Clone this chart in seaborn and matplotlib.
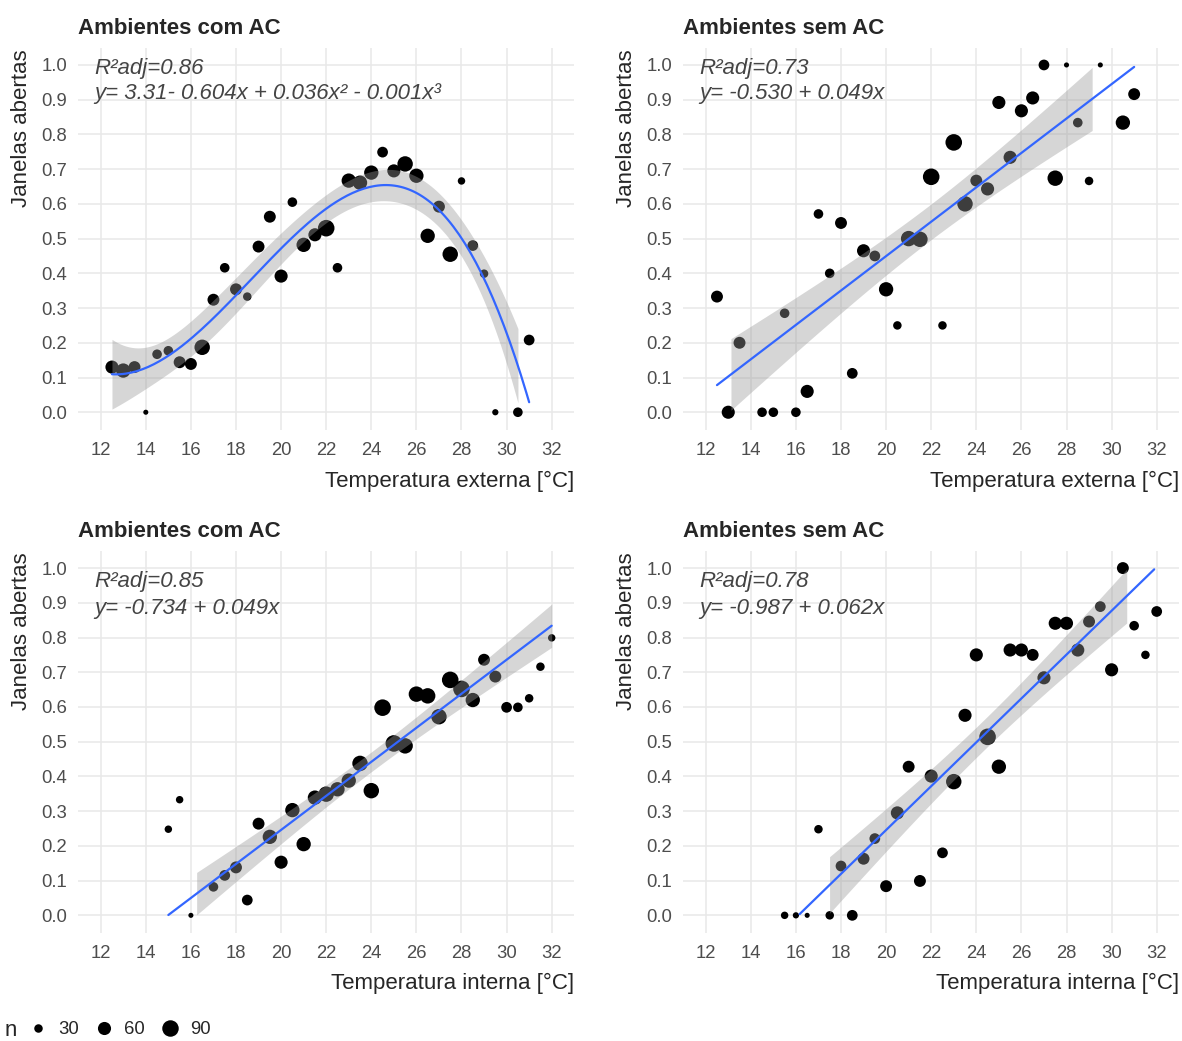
import numpy as np
import pandas as pd
import seaborn as sns
import matplotlib.pyplot as plt
from matplotlib.lines import Line2D

# ---- data (x = temperature, y = share of open windows, n = sample size)
ext_ac_x = [12.5, 13, 13.5, 14, 14.5, 15, 15.5, 16, 16.5, 17, 17.5, 18, 18.5, 19, 19.5, 20, 20.5,
            21, 21.5, 22, 22.5, 23, 23.5, 24, 24.5, 25, 25.5, 26, 26.5, 27, 27.5, 28, 28.5, 29,
            29.5, 30.5, 31]
ext_ac_y = [0.13, 0.12, 0.13, 0.0, 0.167, 0.177, 0.144, 0.139, 0.187, 0.324, 0.416, 0.354, 0.333,
            0.477, 0.563, 0.392, 0.605, 0.482, 0.511, 0.53, 0.416, 0.667, 0.661, 0.69, 0.749,
            0.695, 0.715, 0.681, 0.508, 0.592, 0.455, 0.666, 0.48, 0.399, 0.0, 0.0, 0.208]
ext_ac_n = [60, 70, 51, 16, 36, 36, 51, 51, 80, 51, 36, 51, 30, 51, 51, 60, 36, 70, 60, 91, 36,
            70, 70, 70, 43, 60, 80, 70, 70, 51, 80, 25, 43, 30, 20, 36, 43]

ext_sem_x = [12.5, 13, 13.5, 14.5, 15, 15.5, 16, 16.5, 17, 17.5, 18, 18.5, 19, 19.5, 20, 20.5, 21,
             21.5, 22, 22.5, 23, 23.5, 24, 24.5, 25, 25.5, 26, 26.5, 27, 27.5, 28, 28.5, 29, 29.5,
             30.5, 31]
ext_sem_y = [0.333, 0.0, 0.20, 0.0, 0.0, 0.285, 0.0, 0.06, 0.571, 0.40, 0.545, 0.112, 0.465, 0.45,
             0.354, 0.25, 0.50, 0.498, 0.678, 0.25, 0.777, 0.60, 0.667, 0.643, 0.892, 0.734, 0.868,
             0.905, 1.0, 0.674, 1.0, 0.834, 0.666, 1.0, 0.834, 0.916]
ext_sem_n = [51, 60, 51, 36, 36, 36, 36, 60, 36, 36, 51, 43, 60, 43, 70, 30, 80, 80, 91, 30, 91,
             80, 51, 60, 60, 60, 60, 60, 43, 80, 16, 36, 30, 16, 70, 51]

int_ac_x = [15, 15.5, 16, 17, 17.5, 18, 18.5, 19, 19.5, 20, 20.5, 21, 21.5, 22, 22.5, 23, 23.5, 24,
            24.5, 25, 25.5, 26, 26.5, 27, 27.5, 28, 28.5, 29, 29.5, 30, 30.5, 31, 31.5, 32]
int_ac_y = [0.248, 0.333, 0.0, 0.082, 0.115, 0.138, 0.044, 0.264, 0.226, 0.153, 0.303, 0.205,
            0.339, 0.349, 0.363, 0.388, 0.4375, 0.359, 0.598, 0.495, 0.488, 0.637, 0.632, 0.572,
            0.678, 0.652, 0.62, 0.736, 0.6875, 0.599, 0.599, 0.625, 0.716, 0.799]
int_ac_n = [25, 25, 16, 36, 43, 51, 43, 51, 70, 60, 70, 70, 70, 80, 70, 70, 80, 80, 91, 91, 80,
            80, 80, 80, 91, 91, 70, 51, 51, 43, 36, 30, 30, 25]

int_sem_x = [15.5, 16, 16.5, 17, 17.5, 18, 18.5, 19, 19.5, 20, 20.5, 21, 21.5, 22, 22.5, 23, 23.5,
             24, 24.5, 25, 25.5, 26, 26.5, 27, 27.5, 28, 28.5, 29, 29.5, 30, 30.5, 31, 31.5, 32]
int_sem_y = [0.0, 0.0, 0.0, 0.248, 0.0, 0.142, 0.0, 0.163, 0.221, 0.084, 0.295, 0.428, 0.099,
             0.401, 0.18, 0.385, 0.576, 0.75, 0.514, 0.428, 0.764, 0.764, 0.75, 0.684, 0.841,
             0.841, 0.764, 0.846, 0.889, 0.707, 1.0, 0.834, 0.75, 0.875]
int_sem_n = [25, 20, 16, 30, 30, 43, 43, 51, 43, 51, 60, 51, 51, 60, 43, 80, 60, 60, 91, 70, 60,
             60, 51, 60, 60, 60, 60, 51, 43, 60, 51, 36, 30, 43]

titles = ["Ambientes com AC", "Ambientes sem AC", "Ambientes com AC", "Ambientes sem AC"]
xlabels = ["Temperatura externa [°C]", "Temperatura externa [°C]",
           "Temperatura interna [°C]", "Temperatura interna [°C]"]
r2_labels = ["R²adj=0.86", "R²adj=0.73", "R²adj=0.85", "R²adj=0.78"]
eq_labels = ["y= 3.31- 0.604x + 0.036x² - 0.001x³", "y= -0.530 + 0.049x",
             "y= -0.734 + 0.049x", "y= -0.987 + 0.062x"]
# weighted fits from the data; the internal/AC panel is drawn from its printed coefficients
# (slope, intercept) since my read-off points pull that fit a bit flat
fit_order = [3, 1, 1, 1]
fit_coef = [None, None, (0.049, -0.734), None]
legend_n = [30, 60, 90]

panels = [(ext_ac_x, ext_ac_y, ext_ac_n), (ext_sem_x, ext_sem_y, ext_sem_n),
          (int_ac_x, int_ac_y, int_ac_n), (int_sem_x, int_sem_y, int_sem_n)]

sns.set_style("white")
plt.rcParams['font.family'] = ['Liberation Sans', 'DejaVu Sans']

GRID = '#e8e8e8'
SIZE_NORM = (10, 100)
SIZES = (3.0, 158.0)


def size_of(n):
    return SIZES[0] + (n - SIZE_NORM[0]) / (SIZE_NORM[1] - SIZE_NORM[0]) * (SIZES[1] - SIZES[0])


def smooth(ax, x, y, w, order, coef=None):
    # weighted polynomial fit + 95% band, dropping parts outside the 0..1 scale (ggplot style)
    x = np.asarray(x, float)
    y = np.asarray(y, float)
    w = np.asarray(w, float)
    X = np.vander(x, order + 1)
    xtwx = X.T @ (w[:, None] * X)
    if coef is None:
        beta = np.linalg.solve(xtwx, X.T @ (w * y))
    else:
        beta = np.asarray(coef, float)
    resid = y - X @ beta
    s2 = np.sum(w * resid ** 2) / (len(x) - order - 1)
    cov = s2 * np.linalg.inv(xtwx)
    xs = np.linspace(x.min(), x.max(), 150)
    Xs = np.vander(xs, order + 1)
    fit = Xs @ beta
    se = np.sqrt(np.einsum('ij,jk,ik->i', Xs, cov, Xs))
    lo, hi = fit - 2.02 * se, fit + 2.02 * se
    ok = (lo >= 0) & (hi <= 1)
    ax.fill_between(xs, lo, hi, where=ok, color='#999999', alpha=0.4, lw=0, zorder=3)
    ax.plot(xs, np.where((fit >= -0.002) & (fit <= 1.002), fit, np.nan),
            color='#3366FF', lw=1.6, zorder=4)


fig = plt.figure(figsize=(11.82, 10.41), dpi=100)
W, H = 1182, 1041
lefts = [78.15, 683.15, 78.15, 683.15]
tops = [47.6, 47.6, 550.7, 550.7]
pw, ph = 496.1, 382.0
text_y = [(0.99, 0.917), (0.99, 0.917), (0.96, 0.885), (0.96, 0.885)]

for i, (x, y, n) in enumerate(panels):
    ax = fig.add_axes([lefts[i] / W, 1 - (tops[i] + ph) / H, pw / W, ph / H])
    df = pd.DataFrame({'x': x, 'y': y, 'n': n})
    sns.scatterplot(data=df, x='x', y='y', size='n', sizes=SIZES, size_norm=SIZE_NORM,
                    color='black', edgecolor='none', linewidth=0, legend=False, ax=ax, zorder=2)
    smooth(ax, x, y, n, fit_order[i], fit_coef[i])

    ax.set_xlim(11, 33)
    ax.set_ylim(-0.05, 1.05)
    ax.set_xticks(range(12, 33, 2))
    yt = np.round(np.arange(0, 1.01, 0.1), 1)
    ax.set_yticks(yt)
    ax.set_yticklabels([f"{v:.1f}" for v in yt])
    ax.grid(True, color=GRID, lw=1.1)
    ax.set_axisbelow(True)
    for s in ax.spines.values():
        s.set_visible(False)
    ax.tick_params(length=0, labelsize=13.3, labelcolor='#4d4d4d')
    ax.tick_params(axis='x', pad=9)
    ax.tick_params(axis='y', pad=8)

    ax.set_xlabel('')
    ax.set_ylabel('')
    ax.set_title(titles[i], loc='left', fontsize=16, fontweight='bold', pad=10)
    ax.text(11.72, text_y[i][0], r2_labels[i], fontsize=16, style='italic', color='#444444',
            va='center', ha='left')
    ax.text(11.72, text_y[i][1], eq_labels[i], fontsize=16, style='italic', color='#444444',
            va='center', ha='left')

    # axis titles: x right-aligned under panel, y rotated and top-aligned
    right_px = lefts[i] + pw
    xl_y = 481 if i < 2 else 983
    fig.text(right_px / W, 1 - xl_y / H, xlabels[i], fontsize=16, ha='right', va='center')
    yl_x = 22 if i % 2 == 0 else 627
    fig.text(yl_x / W, 1 - (tops[i] + 2) / H, 'Janelas abertas', fontsize=16, rotation=90,
             ha='center', va='top')

# size legend at the bottom
handles = [Line2D([], [], ls='', marker='o', color='black', markeredgewidth=0,
                  markersize=np.sqrt(size_of(v))) for v in legend_n]
fig.text(5 / W, 1 - 1031 / H, 'n', fontsize=16, ha='left', va='center')
fig.legend(handles, [str(v) for v in legend_n], ncol=3, loc='center left',
           bbox_to_anchor=(28 / W, 1 - 1030 / H), frameon=False, fontsize=13.3,
           handlelength=1.1, handletextpad=0.55, columnspacing=0.8, borderpad=0, borderaxespad=0)

fig.savefig('out.png', dpi=100)
